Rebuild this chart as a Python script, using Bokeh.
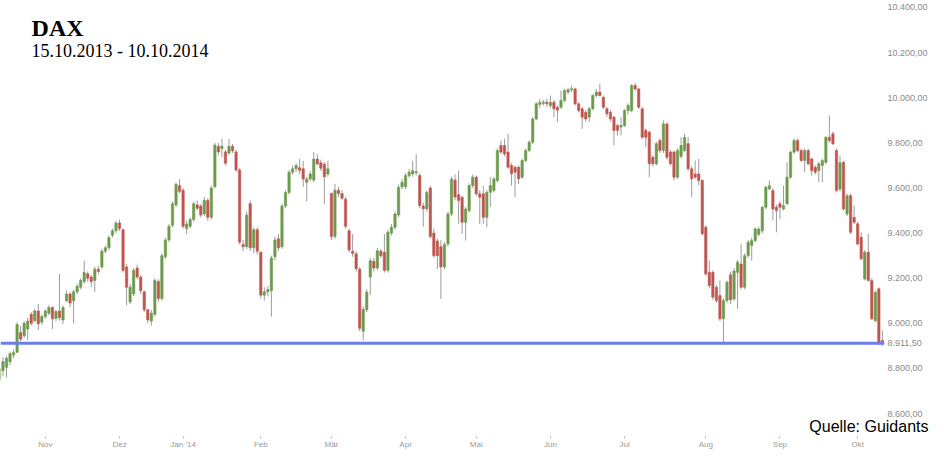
from bokeh.plotting import figure
from bokeh.models import ColumnDataSource, FixedTicker, Span, Label, Range1d, Title
from bokeh.embed import file_html
from bokeh.resources import INLINE

# ---------------- data ----------------
title_text = "DAX"
subtitle_text = "15.10.2013 - 10.10.2014"
source_text = "Quelle: Guidants"

opens = [
    8750, 8790, 8805, 8830, 8860, 8872, 8960, 8945, 8975, 9040,
    9012, 9055, 9005, 9030, 9045, 9070, 9022, 9055, 9015, 9100,
    9130, 9100, 9140, 9160, 9185, 9220, 9205, 9190, 9240, 9250,
    9320, 9335, 9390, 9410, 9445, 9415, 9250, 9095, 9130, 9245,
    9205, 9140, 9060, 9010, 9040, 9185, 9110, 9295, 9370, 9435,
    9525, 9610, 9590, 9420, 9430, 9460, 9525, 9520, 9485, 9545,
    9470, 9605, 9785, 9775, 9760, 9755, 9785, 9760, 9680, 9350,
    9340, 9530, 9335, 9415, 9315, 9125, 9140, 9145, 9295, 9375,
    9340, 9520, 9580, 9670, 9685, 9690, 9685, 9625, 9640, 9635,
    9728, 9712, 9705, 9662, 9575, 9385, 9590, 9575, 9550, 9410,
    9320, 9308, 9240, 8965, 9060, 9205, 9275, 9245, 9320, 9315,
    9235, 9400, 9426, 9480, 9605, 9605, 9655, 9662, 9668, 9655,
    9520, 9508, 9600, 9400, 9365, 9340, 9250, 9352, 9485, 9635,
    9570, 9559, 9448, 9500, 9611, 9648, 9574, 9574, 9470, 9581,
    9589, 9633, 9788, 9788, 9759, 9700, 9692, 9692, 9648, 9722,
    9766, 9803, 9906, 9970, 9975, 9980, 9965, 9980, 9958, 9958,
    9988, 10025, 10035, 10039, 9973, 9951, 9936, 9914, 9951, 10010,
    10025, 10002, 9951, 9936, 9914, 9877, 9870, 9877, 9943, 9943,
    10054, 10039, 9951, 9855, 9847, 9736, 9707, 9810, 9766, 9884,
    9759, 9759, 9648, 9740, 9766, 9796, 9685, 9662, 9662, 9633,
    9426, 9226, 9226, 9160, 9123, 9020, 9101, 9215, 9108, 9226,
    9263, 9160, 9301, 9345, 9367, 9395, 9410, 9515, 9596, 9589,
    9515, 9530, 9507, 9530, 9648, 9759, 9810, 9766, 9722, 9766,
    9729, 9692, 9677, 9700, 9714, 9825, 9840, 9766, 9595, 9714,
    9485, 9566, 9470, 9441, 9382, 9197, 9315, 9190, 9012, 9153,
    8924,
]

highs = [
    8835, 8850, 8855, 8875, 8885, 9005, 8990, 9010, 9025, 9050,
    9065, 9086, 9040, 9062, 9080, 9075, 9060, 9219, 9080, 9145,
    9140, 9150, 9175, 9200, 9278, 9230, 9215, 9250, 9255, 9330,
    9345, 9390, 9420, 9455, 9460, 9420, 9265, 9175, 9245, 9260,
    9215, 9145, 9065, 9060, 9200, 9195, 9310, 9380, 9440, 9540,
    9625, 9640, 9600, 9455, 9470, 9540, 9545, 9530, 9560, 9555,
    9610, 9800, 9800, 9818, 9770, 9818, 9795, 9770, 9690, 9370,
    9495, 9545, 9425, 9425, 9320, 9160, 9165, 9300, 9385, 9395,
    9530, 9590, 9680, 9700, 9710, 9728, 9720, 9650, 9675, 9758,
    9750, 9725, 9715, 9720, 9580, 9618, 9605, 9590, 9560, 9420,
    9396, 9320, 9250, 9075, 9150, 9290, 9290, 9335, 9330, 9396,
    9415, 9440, 9495, 9615, 9640, 9665, 9685, 9721, 9750, 9665,
    9535, 9590, 9610, 9420, 9375, 9370, 9360, 9495, 9650, 9660,
    9677, 9565, 9515, 9620, 9660, 9655, 9590, 9611, 9590, 9648,
    9650, 9775, 9811, 9818, 9840, 9710, 9700, 9700, 9730, 9775,
    9810, 9915, 9980, 9995, 9990, 9995, 10010, 9990, 9965, 10032,
    10040, 10045, 10054, 10045, 9980, 9960, 9945, 9960, 10015, 10039,
    10061, 10010, 9960, 9945, 9920, 9885, 9914, 9950, 9975, 10060,
    10065, 10045, 9960, 9865, 9855, 9745, 9805, 9820, 9899, 9890,
    9770, 9765, 9775, 9825, 9840, 9825, 9695, 9722, 9729, 9640,
    9435, 9278, 9235, 9170, 9190, 9110, 9190, 9230, 9245, 9280,
    9352, 9310, 9370, 9380, 9425, 9428, 9520, 9610, 9633, 9600,
    9525, 9540, 9611, 9714, 9765, 9820, 9820, 9775, 9775, 9775,
    9735, 9700, 9715, 9730, 9830, 9921, 9850, 9775, 9744, 9720,
    9575, 9575, 9522, 9450, 9404, 9325, 9397, 9200, 9145, 9160,
    8968,
]

lows = [
    8735, 8765, 8760, 8815, 8845, 8868, 8920, 8935, 8925, 8990,
    9005, 8970, 8995, 9020, 9035, 8975, 9010, 9012, 8997, 9095,
    9071, 9000, 9130, 9150, 9175, 9185, 9160, 9140, 9220, 9240,
    9310, 9325, 9380, 9400, 9410, 9225, 9080, 9085, 9120, 9195,
    9130, 9050, 9000, 8990, 9030, 9095, 9100, 9285, 9360, 9425,
    9515, 9575, 9420, 9395, 9420, 9450, 9500, 9470, 9475, 9455,
    9460, 9600, 9745, 9737, 9700, 9745, 9755, 9670, 9350, 9320,
    9330, 9320, 9310, 9305, 9110, 9100, 9120, 9030, 9280, 9320,
    9330, 9510, 9570, 9660, 9670, 9662, 9605, 9540, 9630, 9625,
    9700, 9675, 9530, 9650, 9370, 9375, 9560, 9545, 9420, 9315,
    9295, 9230, 8965, 8924, 9050, 9125, 9230, 9235, 9290, 9225,
    9225, 9390, 9415, 9470, 9595, 9595, 9645, 9650, 9655, 9510,
    9428, 9495, 9375, 9290, 9240, 9108, 9240, 9340, 9475, 9545,
    9441, 9397, 9367, 9490, 9600, 9565, 9441, 9441, 9426, 9515,
    9580, 9625, 9750, 9740, 9685, 9611, 9559, 9618, 9640, 9715,
    9760, 9795, 9900, 9953, 9965, 9960, 9955, 9914, 9892, 9950,
    9980, 10015, 10025, 9965, 9935, 9862, 9895, 9892, 9945, 10000,
    10005, 9950, 9914, 9895, 9788, 9833, 9833, 9870, 9925, 9935,
    10030, 9950, 9815, 9781, 9648, 9695, 9700, 9755, 9755, 9725,
    9700, 9633, 9640, 9730, 9760, 9675, 9559, 9640, 9611, 9390,
    9210, 9155, 9105, 9090, 9010, 8905, 9090, 9086, 9100, 9064,
    9150, 9150, 9290, 9278, 9360, 9385, 9400, 9505, 9590, 9456,
    9404, 9463, 9500, 9525, 9640, 9750, 9760, 9715, 9670, 9700,
    9655, 9660, 9626, 9626, 9705, 9800, 9790, 9580, 9585, 9500,
    9475, 9395, 9440, 9345, 9280, 9190, 9185, 9015, 9005, 8905,
    8900,
]

closes = [
    8800, 8830, 8845, 8865, 8870, 8995, 8930, 9000, 9010, 9000,
    9055, 8998, 9030, 9055, 9070, 9020, 9052, 9025, 9070, 9130,
    9090, 9140, 9165, 9190, 9225, 9200, 9185, 9240, 9230, 9320,
    9335, 9380, 9410, 9445, 9420, 9235, 9160, 9160, 9235, 9205,
    9145, 9060, 9015, 9045, 9190, 9110, 9300, 9370, 9430, 9530,
    9615, 9585, 9430, 9440, 9460, 9530, 9510, 9480, 9545, 9470,
    9600, 9790, 9760, 9785, 9710, 9785, 9765, 9680, 9360, 9340,
    9480, 9335, 9415, 9320, 9125, 9140, 9150, 9290, 9370, 9335,
    9520, 9580, 9670, 9685, 9700, 9678, 9640, 9640, 9662, 9728,
    9707, 9688, 9650, 9685, 9385, 9590, 9575, 9555, 9430, 9325,
    9310, 9242, 8978, 9062, 9138, 9278, 9245, 9322, 9300, 9235,
    9404, 9426, 9485, 9603, 9625, 9655, 9670, 9677, 9672, 9522,
    9508, 9580, 9385, 9300, 9300, 9250, 9350, 9485, 9640, 9560,
    9545, 9448, 9507, 9611, 9648, 9574, 9559, 9470, 9581, 9611,
    9640, 9766, 9759, 9751, 9692, 9663, 9670, 9641, 9722, 9766,
    9803, 9906, 9973, 9980, 9980, 9973, 9980, 9951, 9945, 9988,
    10032, 10035, 10040, 9973, 9943, 9914, 9906, 9951, 10010, 10025,
    10010, 9958, 9929, 9906, 9855, 9855, 9877, 9943, 9966, 10054,
    10039, 9958, 9825, 9825, 9707, 9707, 9796, 9766, 9884, 9736,
    9707, 9648, 9766, 9788, 9825, 9685, 9641, 9648, 9633, 9397,
    9219, 9168, 9116, 9101, 9020, 9101, 9182, 9105, 9232, 9271,
    9160, 9300, 9360, 9367, 9419, 9418, 9515, 9603, 9610, 9507,
    9500, 9515, 9522, 9648, 9759, 9810, 9766, 9722, 9766, 9707,
    9677, 9670, 9707, 9722, 9825, 9810, 9796, 9589, 9712, 9507,
    9566, 9404, 9448, 9352, 9286, 9315, 9190, 9020, 9138, 8909,
    8912,
]

# trading-day index of the first session of each month, and its label
month_ticks = [13, 34, 52, 74, 94, 115, 135, 156, 177, 200, 221, 243]
month_labels = ["Nov", "Dez", "Jan '14", "Feb", "Mär", "Apr", "Mai",
                "Jun", "Jul", "Aug", "Sep", "Okt"]

price_ticks = [8600, 8800, 9000, 9200, 9400, 9600, 9800, 10000, 10200, 10400]
price_labels = ["8.600,00", "8.800,00", "9.000,00", "9.200,00", "9.400,00",
                "9.600,00", "9.800,00", "10.000,00", "10.200,00", "10.400,00"]

support_level = 8911.5
support_label = "8.911,50"

# ---------------- figure ----------------
UP = "#6b9b4b"
DOWN = "#c0554f"

x = list(range(len(closes)))
colors = [UP if c >= o else DOWN for o, c in zip(opens, closes)]
tops = [max(o, c) for o, c in zip(opens, closes)]
bottoms = [min(o, c) for o, c in zip(opens, closes)]

src = ColumnDataSource(dict(x=x, high=highs, low=lows, top=tops,
                            bottom=bottoms, color=colors))

p = figure(frame_width=884, frame_height=414, output_backend="svg",
           toolbar_location=None,
           x_range=Range1d(0.3, 250.6), y_range=Range1d(8596, 10431),
           y_axis_location="right",
           min_border_left=0, min_border_right=0, min_border_top=0,
           min_border_bottom=0)

p.outline_line_color = None
p.xgrid.visible = False
p.ygrid.visible = False
p.background_fill_color = "white"
p.border_fill_color = "white"

p.segment(x0="x", y0="low", x1="x", y1="high", source=src,
          line_color="#9c9c9c", line_width=1)
p.vbar(x="x", width=0.66, top="top", bottom="bottom", source=src,
       fill_color="color", line_color="color", line_width=0.6)

p.add_layout(Span(location=support_level, dimension="width",
                  line_color="#6b7cec", line_width=3))

# right price axis (with the support level marked on it)
axis_ticks = price_ticks + [support_level]
axis_labels = price_labels + [support_label]
ya = p.yaxis[0]
ya.ticker = FixedTicker(ticks=axis_ticks)
ya.major_label_overrides = {t: s for t, s in zip(axis_ticks, axis_labels)}
ya.axis_line_color = None
ya.major_tick_out = 0
ya.major_tick_in = 0
ya.minor_tick_line_color = None
ya.major_label_text_color = "#8a8a8a"
ya.major_label_text_font = "Liberation Sans"
ya.major_label_text_font_size = "9px"
ya.major_label_standoff = 3

# bottom month axis
xa = p.xaxis[0]
xa.ticker = FixedTicker(ticks=month_ticks)
xa.major_label_overrides = {t: s for t, s in zip(month_ticks, month_labels)}
xa.axis_line_color = None
xa.major_tick_out = 2
xa.major_tick_in = 0
xa.major_tick_line_color = "#b0b0b0"
xa.minor_tick_line_color = None
xa.major_label_text_color = "#9a9a9a"
xa.major_label_text_font = "Liberation Sans"
xa.major_label_text_font_size = "8px"
xa.major_label_standoff = 1

# source note: a title panel between the plot area and the month axis
note = Title(text=source_text, align="right", offset=-44, standoff=3,
             text_font="Liberation Sans", text_font_size="16px",
             text_font_style="normal", text_color="black")
p.below = [note] + list(p.below)

# titles
p.add_layout(Label(x=9.1, y=10307, text=title_text, text_font="Liberation Serif",
                   text_font_size="24px", text_font_style="bold",
                   text_color="black", text_baseline="alphabetic"))
p.add_layout(Label(x=9.1, y=10209, text=subtitle_text, text_font="Liberation Serif",
                   text_font_size="18px", text_color="black",
                   text_baseline="alphabetic"))

open("out.html", "w").write(file_html(p, INLINE))
